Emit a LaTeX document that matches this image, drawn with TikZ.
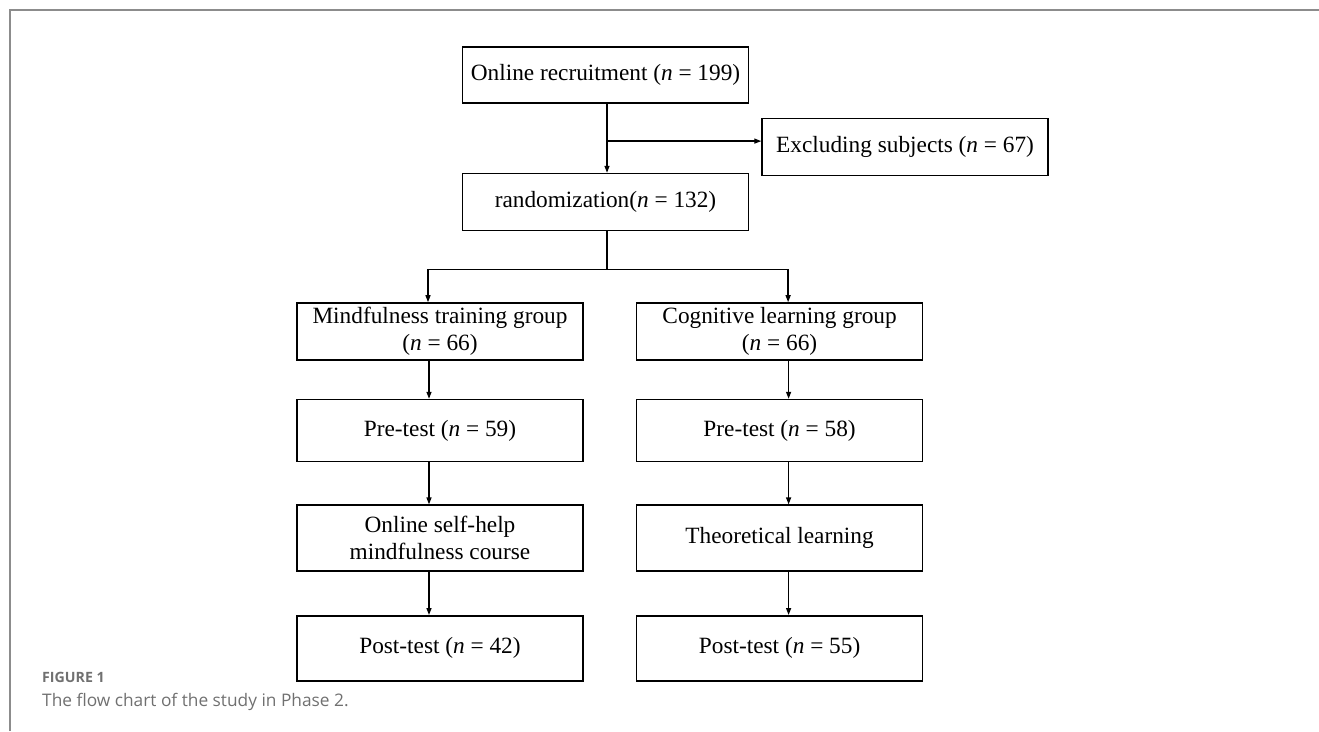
\documentclass[tikz,border=0pt]{standalone}
\usepackage{fontspec}
\setmainfont{Liberation Serif}
\newfontfamily\capfont{Open Sans}
\usepackage{tikz}
\usetikzlibrary{arrows.meta, positioning}
\usepackage{xcolor}
\definecolor{framegray}{HTML}{8C8C8C}
\definecolor{capgray}{HTML}{707070}

\begin{document}
\begin{tikzpicture}[
    x=1pt, y=-1pt,
    box/.style={rectangle, draw, line width=1.6pt, minimum width=286pt, minimum height=57pt, inner sep=1pt, align=center, font=\fontsize{23.3}{27}\selectfont},
    arrow/.style={-{Triangle[length=7pt, width=5pt]}, line width=1.3pt},
    line/.style={line width=1.3pt},
    frame/.style={draw=framegray, line width=2pt},
    caphead/.style={anchor=base west, inner sep=0pt, text=capgray, font=\capfont\fontsize{14.2}{17}\selectfont\bfseries},
    captext/.style={anchor=base west, inner sep=0pt, text=capgray, font=\capfont\fontsize{17.3}{20}\selectfont},
]
\useasboundingbox (0,0) rectangle (1319,731);

% frame of the figure
\draw[frame] (10,731) -- (10,10) -- (1319,10);

\node[box, minimum height=56pt] (recruit) at (605.5,75) {Online recruitment (\textit{n} = 199)};
\node[box, below right=14pt and 12pt of recruit.south east] (exclude) {Excluding subjects (\textit{n} = 67)};
\node[box, below=69pt of recruit] (random) {randomization(\textit{n} = 132)};

\node[box] (mind) at (440,331.5) {Mindfulness training group\\(\textit{n} = 66)};
\node[box, minimum height=62pt, below=38pt of mind]  (pre1)   {Pre-test (\textit{n} = 59)};
\node[box, minimum height=66pt, below=42pt of pre1]  (course) {Online self-help\\mindfulness course};
\node[box, minimum height=65pt, below=43pt of course] (post1) {Post-test (\textit{n} = 42)};

\node[box, right=52pt of mind] (cog) {Cognitive learning group\\(\textit{n} = 66)};
\node[box, minimum height=62pt, below=38pt of cog]    (pre2)   {Pre-test (\textit{n} = 58)};
\node[box, minimum height=66pt, below=42pt of pre2]   (theory) {Theoretical learning};
\node[box, minimum height=65pt, below=43pt of theory] (post2)  {Post-test (\textit{n} = 55)};

% top part
\coordinate (exin) at ([yshift=6pt]exclude.west);
\draw[arrow] ([xshift=1.5pt]recruit.south) -- ([xshift=1.5pt]random.north);
\draw[arrow] ([xshift=1.5pt]recruit.south |- exin) -- (exin);

% split into the two groups
\draw[line] ([xshift=1.5pt]random.south) -- ++(0,-38pt) coordinate (split);
\draw[arrow] (split) -| ([xshift=-12pt]mind.north);
\draw[arrow] (split) -| ([xshift=8.5pt]cog.north);

% group columns
\foreach \a/\b in {mind/pre1, pre1/course, course/post1}
    \draw[arrow] ([xshift=-11pt]\a.south) -- ([xshift=-11pt]\b.north);
\foreach \a/\b in {cog/pre2, pre2/theory, theory/post2}
    \draw[arrow] ([xshift=9pt]\a.south) -- ([xshift=9pt]\b.north);

% caption
\node[caphead] (fighead) at (42,682) {FIGURE 1};
\node[captext] (figtext) at (42,706) {The flow chart of the study in Phase 2.};

\end{tikzpicture}
\end{document}
